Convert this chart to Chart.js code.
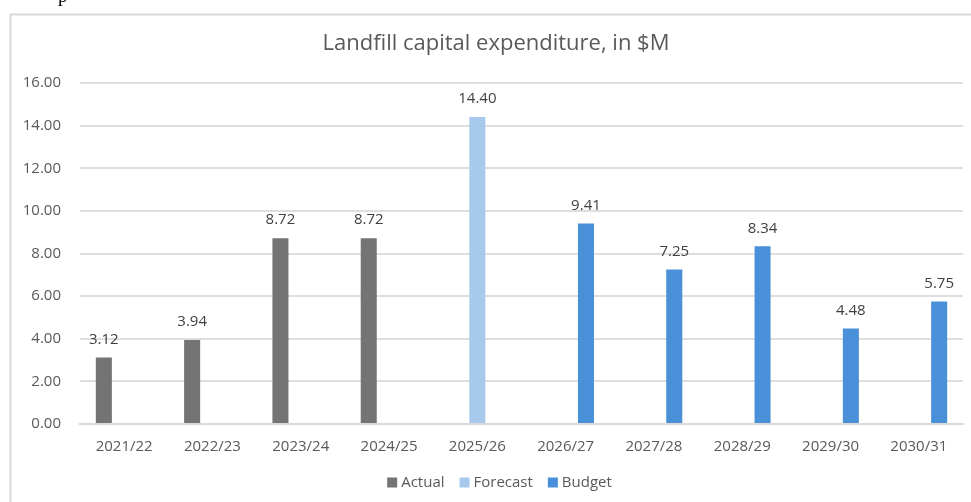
<!DOCTYPE html>
<html>
<head>
<meta charset="utf-8">
<title>Landfill capital expenditure</title>
<script src="https://cdn.jsdelivr.net/npm/chart.js@4/dist/chart.umd.min.js"></script>
<style>
  html, body { margin: 0; padding: 0; background: #ffffff; }
  #wrap { position: absolute; left: 0; top: 0; width: 971px; height: 502px; overflow: hidden; }
  canvas { display: block; }
</style>
</head>
<body>
<div id="wrap"><canvas id="chart" width="971" height="502"></canvas></div>
<script>
// Financial years on the category axis
const years = ['2021/22', '2022/23', '2023/24', '2024/25', '2025/26',
               '2026/27', '2027/28', '2028/29', '2029/30', '2030/31'];

// Capital expenditure by status, $M (null where a year belongs to another status)
const actual   = [3.12, 3.94, 8.72, 8.72, null, null, null, null, null, null];
const forecast = [null, null, null, null, 14.40, null, null, null, null, null];
const budget   = [null, null, null, null, null, 9.41, 7.25, 8.34, 4.48, 5.75];

// Value-axis range and step
const yMin = 0;
const yMax = 16;
const yStep = 2;

const chartTitle = 'Landfill capital expenditure, in $M';

const FONT = '"Open Sans", "Liberation Sans", sans-serif';

// Outer frame lines plus a stray descender from the line above the chart
const framePlugin = {
  id: 'frame',
  beforeDraw(chart) {
    const ctx = chart.ctx;
    ctx.save();
    ctx.fillStyle = '#ffffff';
    ctx.fillRect(0, 0, chart.width, chart.height);
    ctx.strokeStyle = '#d9d9d9';
    ctx.lineWidth = 2;
    ctx.beginPath();
    ctx.moveTo(10.5, chart.height + 2);
    ctx.lineTo(10.5, 14.5);
    ctx.lineTo(chart.width + 2, 14.5);
    ctx.stroke();
    ctx.fillStyle = '#000000';
    ctx.font = '19px "Liberation Serif", serif';
    ctx.textBaseline = 'alphabetic';
    ctx.fillText('p', 58, 2);
    ctx.restore();
  }
};

// Title, centred above the plot
const titlePlugin = {
  id: 'fixedTitle',
  afterDraw(chart) {
    const ctx = chart.ctx;
    ctx.save();
    ctx.font = '22px ' + FONT;
    ctx.fillStyle = '#595959';
    ctx.textAlign = 'center';
    ctx.textBaseline = 'middle';
    ctx.fillText(chartTitle, 496, 44);
    ctx.restore();
  }
};

// Legend row under the category labels
const legendPlugin = {
  id: 'legendRow',
  afterDraw(chart) {
    const ctx = chart.ctx;
    const box = 10, textGap = 4, itemGap = 15, cx = 499.5, cy = 482.5;
    ctx.save();
    ctx.font = '15px ' + FONT;
    const items = chart.data.datasets.map(ds => ({
      text: ds.label, color: ds.backgroundColor, w: ctx.measureText(ds.label).width
    }));
    const total = items.reduce((s, it) => s + box + textGap + it.w, 0) + itemGap * (items.length - 1);
    let x = cx - total / 2;
    ctx.textBaseline = 'middle';
    ctx.textAlign = 'left';
    items.forEach(it => {
      ctx.fillStyle = it.color;
      ctx.fillRect(x, cy - box / 2, box, box);
      x += box + textGap;
      ctx.fillStyle = '#595959';
      ctx.fillText(it.text, x, cy);
      x += it.w + itemGap;
    });
    ctx.restore();
  }
};

// Value labels above each bar
const valueLabels = {
  id: 'valueLabels',
  afterDatasetsDraw(chart) {
    const ctx = chart.ctx;
    ctx.save();
    ctx.font = '15px ' + FONT;
    ctx.fillStyle = '#404040';
    ctx.textAlign = 'center';
    ctx.textBaseline = 'middle';
    chart.data.datasets.forEach((ds, di) => {
      const meta = chart.getDatasetMeta(di);
      meta.data.forEach((bar, i) => {
        const v = ds.data[i];
        if (v === null || v === undefined) return;
        ctx.fillText(v.toFixed(2), bar.x, bar.y - 18);
      });
    });
    ctx.restore();
  }
};

new Chart(document.getElementById('chart'), {
  type: 'bar',
  data: {
    labels: years,
    datasets: [
      { label: 'Actual',   data: actual,   backgroundColor: '#747474' },
      { label: 'Forecast', data: forecast, backgroundColor: '#a6c9ec' },
      { label: 'Budget',   data: budget,   backgroundColor: '#4a90d9' }
    ]
  },
  options: {
    responsive: false,
    animation: false,
    events: [],
    categoryPercentage: 0.69,
    barPercentage: 0.79,
    layout: { padding: { left: 12, right: 8, top: 83, bottom: 38 } },
    scales: {
      x: {
        grid: { display: false, drawTicks: false },
        border: { display: true, color: '#dadada', width: 2 },
        ticks: { color: '#595959', font: { family: FONT, size: 15 }, padding: 14, maxRotation: 0 },
        afterFit(scale) { scale.height = 40; }
      },
      y: {
        min: yMin,
        max: yMax,
        grid: { color: '#dedede', lineWidth: 2, drawTicks: false },
        border: { display: false },
        ticks: {
          stepSize: yStep,
          color: '#595959',
          font: { family: FONT, size: 15 },
          padding: 19,
          callback: (v) => Number(v).toFixed(2)
        },
        afterFit(scale) { scale.width = 68; }
      }
    },
    plugins: {
      title: { display: false },
      legend: { display: false },
      tooltip: { enabled: false }
    }
  },
  plugins: [framePlugin, valueLabels, titlePlugin, legendPlugin]
});
</script>
</body>
</html>
